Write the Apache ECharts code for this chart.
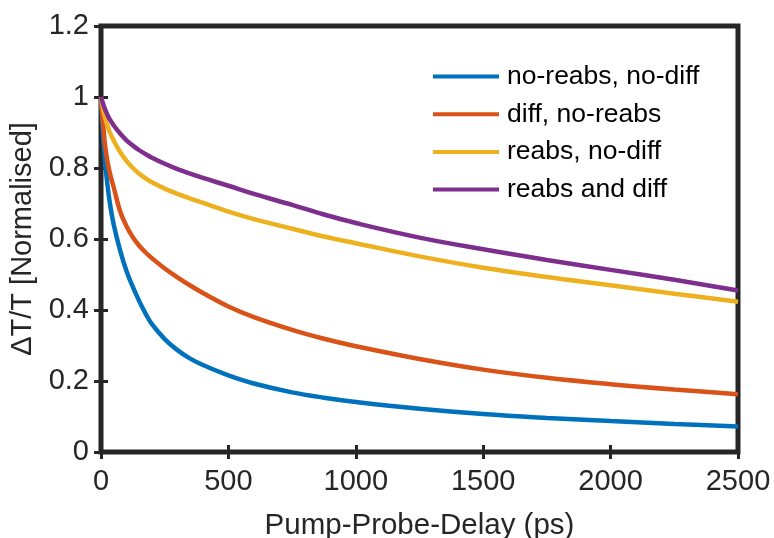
<!DOCTYPE html>
<html>
<head>
<meta charset="utf-8">
<script src="https://cdn.jsdelivr.net/npm/echarts@6/dist/echarts.min.js"></script>
<style>
  html, body { margin: 0; padding: 0; background: #fff; }
  #chart { width: 774px; height: 538px; }
</style>
</head>
<body>
<div id="chart"></div>
<script>
// delay (ps)
var delays = [0, 5, 10, 15, 25, 35, 50, 75, 100, 125, 150, 175, 200, 250, 300, 350, 400, 500, 600, 750, 875, 1000, 1250, 1500, 1750, 2000, 2250, 2500];
// normalised dT/T per model
var noReabsNoDiff = [1.0, 0.93, 0.875, 0.825, 0.755, 0.70, 0.64, 0.568, 0.51, 0.465, 0.425, 0.39, 0.36, 0.318, 0.287, 0.263, 0.245, 0.216, 0.193, 0.168, 0.153, 0.141, 0.122, 0.107, 0.096, 0.087, 0.079, 0.072];
var diffNoReabs   = [1.0, 0.95, 0.91, 0.87, 0.82, 0.785, 0.745, 0.678, 0.636, 0.605, 0.581, 0.562, 0.546, 0.517, 0.492, 0.469, 0.448, 0.41, 0.38, 0.344, 0.319, 0.298, 0.262, 0.232, 0.209, 0.191, 0.176, 0.163];
var reabsNoDiff   = [1.0, 0.978, 0.96, 0.945, 0.92, 0.9, 0.877, 0.845, 0.82, 0.80, 0.784, 0.771, 0.76, 0.742, 0.727, 0.714, 0.702, 0.677, 0.656, 0.629, 0.607, 0.588, 0.551, 0.519, 0.493, 0.47, 0.446, 0.423];
var reabsAndDiff  = [1.0, 0.988, 0.977, 0.967, 0.95, 0.936, 0.92, 0.897, 0.878, 0.863, 0.85, 0.839, 0.829, 0.812, 0.797, 0.784, 0.772, 0.75, 0.727, 0.696, 0.669, 0.645, 0.604, 0.571, 0.541, 0.513, 0.485, 0.455];

var seriesNames = ['no-reabs, no-diff', 'diff, no-reabs', 'reabs, no-diff', 'reabs and diff'];
var seriesColors = ['#0072BD', '#D95319', '#EDB120', '#7E2F8E'];
var seriesValues = [noReabsNoDiff, diffNoReabs, reabsNoDiff, reabsAndDiff];

var fontFam = '"Liberation Sans", Arial, Helvetica, sans-serif';
var ink = '#262626';

function pairs(vals) {
  return delays.map(function (t, i) { return [t, vals[i]]; });
}

var myChart = echarts.init(document.getElementById('chart'));

var tickStyle = { show: true, inside: true, length: 7, lineStyle: { color: ink, width: 3 } };

var option = {
  animation: false,
  backgroundColor: '#fff',
  grid: {
    left: 101, right: 36, top: 26, bottom: 86,
    containLabel: false,
    outerBoundsMode: 'none',
    show: true,
    borderColor: ink,
    borderWidth: 5,
    backgroundColor: '#fff'
  },
  legend: {
    orient: 'vertical',
    left: 433,
    top: 63,
    padding: 0,
    icon: 'rect',
    itemWidth: 66,
    itemHeight: 4,
    itemGap: 10.7,
    textStyle: { fontFamily: fontFam, fontSize: 26.5, color: '#000', lineHeight: 26, padding: [0, 0, 0, 3] },
    data: seriesNames
  },
  xAxis: [{
    type: 'value',
    min: 0, max: 2500, interval: 500,
    name: 'Pump-Probe-Delay (ps)',
    nameLocation: 'middle',
    nameGap: 59,
    nameTextStyle: { fontFamily: fontFam, fontSize: 29.5, color: ink },
    axisLine: { show: false },
    axisTick: tickStyle,
    splitLine: { show: false },
    axisLabel: {
      fontFamily: fontFam, fontSize: 29, color: ink, margin: 15,
      formatter: function (v) { return String(v); }
    }
  }, {
    type: 'value',
    position: 'top',
    min: 0, max: 2500, interval: 500,
    axisLine: { show: false },
    axisTick: tickStyle,
    splitLine: { show: false },
    axisLabel: { show: false }
  }],
  yAxis: [{
    type: 'value',
    min: 0, max: 1.2, interval: 0.2,
    name: 'ΔT/T [Normalised]',
    nameLocation: 'middle',
    nameGap: 64,
    nameTextStyle: { fontFamily: fontFam, fontSize: 29, color: ink },
    axisLine: { show: false },
    axisTick: tickStyle,
    splitLine: { show: false },
    axisLabel: { fontFamily: fontFam, fontSize: 29, color: ink, margin: 12 }
  }, {
    type: 'value',
    position: 'right',
    min: 0, max: 1.2, interval: 0.2,
    axisLine: { show: false },
    axisTick: tickStyle,
    splitLine: { show: false },
    axisLabel: { show: false }
  }],
  series: seriesNames.map(function (name, i) {
    return {
      name: name,
      type: 'line',
      xAxisIndex: 0,
      yAxisIndex: 0,
      data: pairs(seriesValues[i]),
      smooth: 0.4,
      showSymbol: false,
      color: seriesColors[i],
      lineStyle: { width: 4.5, color: seriesColors[i] },
      z: 3
    };
  })
};
myChart.setOption(option);
</script>
</body>
</html>
